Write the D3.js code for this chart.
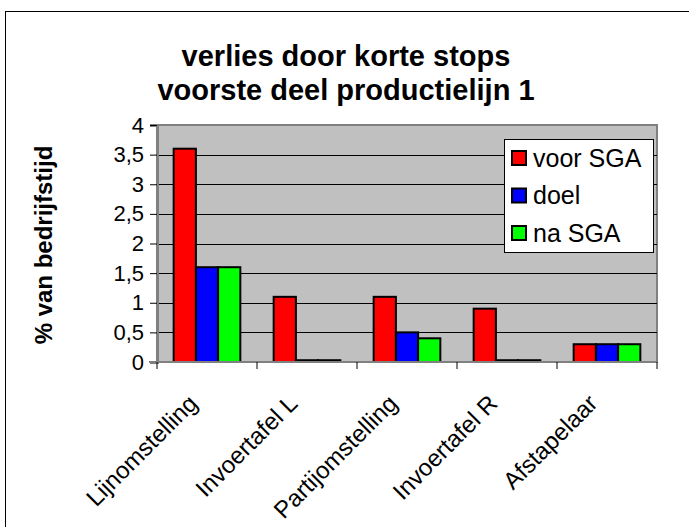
<!DOCTYPE html>
<html>
<head>
<meta charset="utf-8">
<script src="https://cdn.jsdelivr.net/npm/d3@7"></script>
<style>
  body { margin: 0; background: #fff; }
  text { font-family: "Liberation Sans", Arial, sans-serif; }
</style>
</head>
<body>
<div id="chart"></div>
<script>
// data
var categories = ["Lijnomstelling", "Invoertafel L", "Partijomstelling", "Invoertafel R", "Afstapelaar"];
var seriesNames = ["voor SGA", "doel", "na SGA"];
var seriesColors = ["#ff0000", "#0000ff", "#00ff00"];
var voorSGA = [3.6, 1.1, 1.1, 0.9, 0.3];
var doel = [1.6, 0.03, 0.5, 0.03, 0.3];
var naSGA = [1.6, 0.03, 0.4, 0.03, 0.3];
var yTicks = [0, 0.5, 1, 1.5, 2, 2.5, 3, 3.5, 4];
var titleLines = ["verlies door korte stops", "voorste deel productielijn 1"];

var series = [voorSGA, doel, naSGA];

var W = 689, H = 527;
var plot = {left: 157, top: 125, right: 657, bottom: 362};

var svg = d3.select("#chart").append("svg")
    .attr("width", W)
    .attr("height", H);

// outer border (right/bottom are cut off in the original)
svg.append("rect")
    .attr("x", 5.5).attr("y", 11.5)
    .attr("width", 720).attr("height", 600)
    .attr("fill", "#fff")
    .attr("stroke", "#000");

// title
svg.selectAll("text.title")
    .data(titleLines)
    .enter().append("text")
    .attr("class", "title")
    .attr("x", 346)
    .attr("y", function(d, i) { return 66 + i * 34; })
    .attr("text-anchor", "middle")
    .attr("font-size", "29px")
    .attr("font-weight", "bold")
    .text(function(d) { return d; });

var x0 = d3.scaleBand()
    .domain(categories)
    .range([plot.left, plot.right])
    .paddingInner(0)
    .paddingOuter(0);

var x1 = d3.scaleBand()
    .domain(d3.range(series.length))
    .range([0, x0.bandwidth()])
    .paddingOuter(0.75)
    .paddingInner(0);

var y = d3.scaleLinear()
    .domain([0, 4])
    .range([plot.bottom, plot.top]);

// plot area
svg.append("rect")
    .attr("x", plot.left).attr("y", plot.top)
    .attr("width", plot.right - plot.left)
    .attr("height", plot.bottom - plot.top)
    .attr("fill", "#c0c0c0")
    .attr("stroke", "#808080")
    .attr("stroke-width", 2);

// gridlines
svg.append("g")
    .selectAll("line")
    .data(yTicks.filter(function(d) { return d > 0 && d < 4; }))
    .enter().append("line")
    .attr("x1", plot.left).attr("x2", plot.right)
    .attr("y1", function(d) { return Math.round(y(d)) + 0.5; })
    .attr("y2", function(d) { return Math.round(y(d)) + 0.5; })
    .attr("stroke", "#000")
    .attr("stroke-width", 1);

// bars
var groups = svg.append("g")
    .selectAll("g")
    .data(categories)
    .enter().append("g")
    .attr("transform", function(d) { return "translate(" + x0(d) + ",0)"; });

groups.selectAll("rect")
    .data(function(d, ci) { return series.map(function(s, si) { return {si: si, v: s[ci]}; }); })
    .enter().append("rect")
    .attr("x", function(d) { return x1(d.si); })
    .attr("y", function(d) { return y(d.v); })
    .attr("width", x1.bandwidth())
    .attr("height", function(d) { return y(0) - y(d.v); })
    .attr("fill", function(d) { return seriesColors[d.si]; })
    .attr("stroke", "#000")
    .attr("stroke-width", 2);

// y axis
var yAxis = svg.append("g")
    .attr("transform", "translate(" + plot.left + ",0)")
    .call(d3.axisLeft(y)
        .tickValues(yTicks)
        .tickSize(7)
        .tickPadding(6)
        .tickFormat(function(d) { return String(d).replace(".", ","); }));
yAxis.select(".domain").attr("stroke", "#808080").attr("stroke-width", 3);
yAxis.selectAll(".tick line").attr("stroke", "#000");
yAxis.selectAll("text")
    .attr("font-size", "22px")
    .attr("fill", "#000")
    .style("font-family", "'Liberation Sans', Arial, sans-serif");

// x axis
var xAxis = svg.append("g")
    .attr("transform", "translate(0," + plot.bottom + ")");
xAxis.append("line")
    .attr("x1", plot.left - 8).attr("x2", plot.right)
    .attr("y1", 0).attr("y2", 0)
    .attr("stroke", "#808080")
    .attr("stroke-width", 2);
xAxis.selectAll("line.tick")
    .data(categories.concat(["end"]))
    .enter().append("line")
    .attr("class", "tick")
    .attr("x1", function(d, i) { return plot.left + i * x0.step(); })
    .attr("x2", function(d, i) { return plot.left + i * x0.step(); })
    .attr("y1", 0).attr("y2", 7)
    .attr("stroke", "#000");
xAxis.selectAll("text")
    .data(categories)
    .enter().append("text")
    .attr("transform", function(d) {
        return "translate(" + (x0(d) + x0.bandwidth() / 2 - 14) + ",37) rotate(-45)";
    })
    .attr("text-anchor", "end")
    .attr("font-size", "24px")
    .attr("dy", "0.35em")
    .text(function(d) { return d; });

// y axis title
svg.append("text")
    .attr("transform", "translate(52,245) rotate(-90)")
    .attr("text-anchor", "middle")
    .attr("font-size", "24px")
    .attr("font-weight", "bold")
    .text("% van bedrijfstijd");

// legend
var legend = svg.append("g");
legend.append("rect")
    .attr("x", 504.5).attr("y", 139.5)
    .attr("width", 149).attr("height", 113)
    .attr("fill", "#fff")
    .attr("stroke", "#000");

var items = legend.selectAll("g")
    .data(seriesNames)
    .enter().append("g")
    .attr("transform", function(d, i) { return "translate(512," + (158 + i * 37.5) + ")"; });
items.append("rect")
    .attr("x", 0).attr("y", -7)
    .attr("width", 14).attr("height", 14)
    .attr("fill", function(d, i) { return seriesColors[i]; })
    .attr("stroke", "#000")
    .attr("stroke-width", 2);
items.append("text")
    .attr("x", 21)
    .attr("y", 0)
    .attr("dy", "0.35em")
    .attr("font-size", "25px")
    .text(function(d) { return d; });
</script>
</body>
</html>
